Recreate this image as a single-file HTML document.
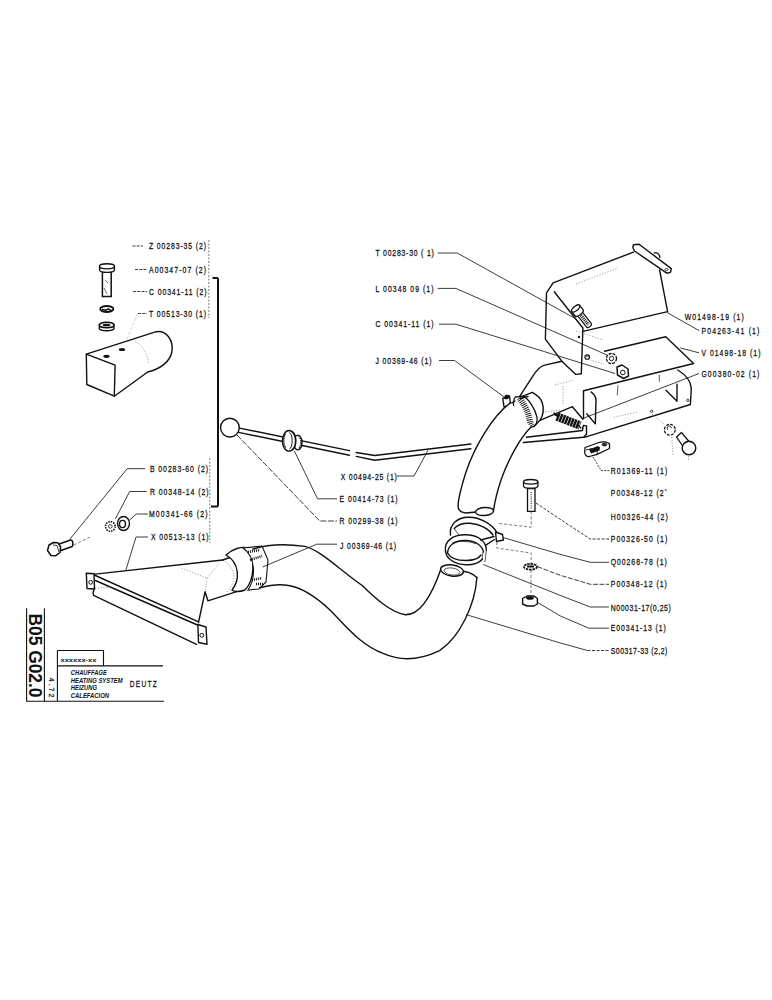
<!DOCTYPE html>
<html><head><meta charset="utf-8">
<style>
html,body{margin:0;padding:0;background:#fff;width:772px;height:1000px;overflow:hidden}
svg{position:absolute;left:0;top:0;display:block}
text{font-family:"Liberation Sans",sans-serif;font-size:8.6px;font-weight:normal;fill:#111;stroke:#111;stroke-width:0.25;dominant-baseline:central}
.ln{fill:none;stroke:#111;stroke-width:1.4;stroke-linejoin:round;stroke-linecap:round}
.th{fill:none;stroke:#111;stroke-width:0.7}
.ld{fill:none;stroke:#1a1a1a;stroke-width:0.85}
.dt{fill:none;stroke:#777;stroke-width:0.7;stroke-dasharray:1.2 1.6}
.ds{fill:none;stroke:#444;stroke-width:0.7;stroke-dasharray:3 2}
.wf{fill:#fff;stroke:#111;stroke-width:1.4;stroke-linejoin:round}
</style></head>
<body>
<svg width="772" height="1000" viewBox="0 0 772 1000">

<!-- ===== LEFT COLUMN LABELS ===== -->
<g id="leftlabels">
<text transform="translate(149 246.4) scale(0.8 1)" textLength="71.2" lengthAdjust="spacing">Z 00283-35 (2)</text>
<text transform="translate(149 269.9) scale(0.8 1)" textLength="71.2" lengthAdjust="spacing">A00347-07 (2)</text>
<text transform="translate(149 291.9) scale(0.8 1)" textLength="71.9" lengthAdjust="spacing">C 00341-11 (2)</text>
<text transform="translate(149 313.9) scale(0.8 1)" textLength="71.2" lengthAdjust="spacing">T 00513-30 (1)</text>
<text transform="translate(150 469.1) scale(0.8 1)" textLength="72.5" lengthAdjust="spacing">B 00283-60 (2)</text>
<text transform="translate(150 491.9) scale(0.8 1)" textLength="73.1" lengthAdjust="spacing">R 00348-14 (2)</text>
<text transform="translate(149 514.4) scale(0.8 1)" textLength="73.1" lengthAdjust="spacing">M00341-66 (2)</text>
<text transform="translate(151 537.4) scale(0.8 1)" textLength="71.9" lengthAdjust="spacing">X 00513-13 (1)</text>
<path class="ld" d="M132.5,246H143 M135,269.5H147 M133,291.5H147 M138,313.5H147" stroke-dasharray="3 1.2"/>
<path d="M208.8,240V318 M209.8,458V543" fill="none" stroke="#555" stroke-width="0.8" stroke-dasharray="2 1.5"/>
<path d="M218,278V506.5 M212.5,278H218 M211,506.5H218" fill="none" stroke="#111" stroke-width="2"/>
</g>

<!-- ===== LEFT TOP PART (body + bolt/washer/nut) ===== -->
<g id="body">
<!-- bolt -->
<path d="M102.4,271V296.5H111.2V271Z" fill="#fff" stroke="#111" stroke-width="1.5"/>
<path d="M104,288L107,294 M105,280L108,283" stroke="#333" stroke-width="0.7"/>
<path d="M99.6,266.5V270A7.4,2.4 0 0 0 114.4,270V266.5Z" fill="#fff" stroke="#111" stroke-width="1.4"/>
<ellipse cx="107" cy="266.3" rx="7.4" ry="2.6" fill="#fff" stroke="#111" stroke-width="1.4"/>
<!-- lock washer -->
<ellipse cx="106.8" cy="309" rx="6.6" ry="3" fill="none" stroke="#111" stroke-width="1.8"/>
<path d="M102,309.5L106,310.3L108,308.8L112,311" stroke="#111" stroke-width="1.5" fill="none"/>
<!-- nut -->
<path d="M99.3,325V328.5A7.4,2.6 0 0 0 114,328.5V325Z" fill="#fff" stroke="#111" stroke-width="1.4"/>
<ellipse cx="106.7" cy="325" rx="7.4" ry="2.8" fill="#fff" stroke="#111" stroke-width="1.4"/>
<ellipse cx="106.5" cy="325" rx="3.8" ry="1.3" fill="#111"/>
<!-- body -->
<path class="ln" d="M86.3,354.2L156.3,331.7C166,330 174,340 171.8,352C170,362 160,369 147.7,372L114.3,396.2L86.8,384.5Z"/>
<path class="ln" d="M86.3,354.2L115.1,365.1L114.3,396.2"/>
<path class="dt" d="M135.3,341C143,346 148,355 148.5,363.5"/>
<ellipse cx="106.5" cy="356.3" rx="3.2" ry="1.6" fill="#111"/>
<ellipse cx="122" cy="349.5" rx="3.2" ry="1.6" fill="#111"/>
<path d="M137.7,313.4L126,341.4" fill="none" stroke="#aaa" stroke-width="0.6" stroke-dasharray="3 2"/>
</g>

<!-- ===== BALL LEVER + ROD ===== -->
<g id="rod">
<circle class="ln" cx="229.9" cy="427.6" r="9.4"/>
<path class="ln" d="M239.6,428.1L349.4,450.6 M238.6,432.4L349.4,455.3"/>
<path class="ln" d="M356.2,452.5L374.7,455.5L470.9,444 M356.2,456.4L374.7,460.2L470.9,448.8"/>

<!-- grommet -->
<ellipse cx="297.8" cy="442.5" rx="4.2" ry="7.4" fill="#fff" stroke="#111" stroke-width="1.4"/>
<path d="M298.5,436.5A2.2,5.5 0 0 1 298.5,448.5" fill="none" stroke="#111" stroke-width="1.6" stroke-dasharray="1.2 1"/>
<ellipse cx="289" cy="440.8" rx="6.6" ry="10.3" fill="#fff" stroke="#111" stroke-width="1.4"/>
<path d="M292,431.5A4,9.2 0 0 1 292,450 M289.5,432.5A3,8.3 0 0 1 289.5,449 M286,434A2.5,6.8 0 0 0 286,447.5" fill="none" stroke="#111" stroke-width="1"/>
<path class="ld" d="M237,435L319.8,521H337" stroke-dasharray="6 1.5"/>
<path class="ld" d="M294.3,450.8L317.5,498.8H337 M396.8,476H414L428,450.3"/>
<text transform="translate(340.8 477.1) scale(0.8 1)" textLength="70.0" lengthAdjust="spacing">X 00494-25 (1)</text>
<text transform="translate(339.6 499.2) scale(0.8 1)" textLength="72.5" lengthAdjust="spacing">E 00414-73 (1)</text>
<text transform="translate(339.6 521.4) scale(0.8 1)" textLength="72.5" lengthAdjust="spacing">R 00299-38 (1)</text>
</g>

<!-- ===== LOWER LEFT BOLT/WASHER/NUT ===== -->
<g id="llbolt">
<path d="M58.5,544.2L70.5,540C73,539.5 73.5,544 72.2,546.5L61,550.5Z" fill="#fff" stroke="#111" stroke-width="1.5" stroke-linejoin="round"/>
<path d="M49,545L53.5,542.5L58,542.8L60.6,547L60,552.5L55.5,555.8L51,555.5L47.5,550.5Z" fill="#fff" stroke="#111" stroke-width="1.5" stroke-linejoin="round"/>
<path d="M53,545L57,545.5L59,552" fill="none" stroke="#111" stroke-width="0.8"/>
<circle cx="110.3" cy="526.4" r="4.8" fill="none" stroke="#111" stroke-width="1.6" stroke-dasharray="1.5 1"/>
<circle cx="110.3" cy="526.4" r="1.8" fill="none" stroke="#111" stroke-width="0.8"/>
<ellipse class="wf" cx="123.5" cy="523.5" rx="6" ry="7"/>
<ellipse cx="122.5" cy="524" rx="3" ry="3.6" fill="none" stroke="#111" stroke-width="1.4"/>
<path class="ld" d="M145.3,468.7H127.2L70,539 M146.6,491.5H129.7L115.5,518.7 M147.9,514H136.2L129.7,520 M148,537H136L125.9,570"/>
<path class="ds" d="M74,545L90,537"/>
</g>

<!-- ===== LEFT DUCT X00513-13 ===== -->
<g id="lduct">
<path class="ln" d="M93,574.4L222.7,560"/>
<path class="ln" d="M92,574L198,621.7 M95.4,580.5L197.5,625 M93.6,595.4L196.5,644.3 M94.5,588.5L93,592.5L93.6,595.4"/>
<path class="dt" d="M95,588.2L111,587.2"/>
<path class="wf" d="M86.3,573.3L94,573.8L94.5,589L87,588.5Z"/>
<circle cx="90.7" cy="582.3" r="1.9" fill="none" stroke="#111" stroke-width="1"/>
<path class="wf" d="M197.9,624.5L206,627L207,644.3L198.5,642.5Z"/>
<circle cx="201.8" cy="635.3" r="1.9" fill="none" stroke="#111" stroke-width="1"/>
<path class="ln" d="M198.5,622.5L205.1,591.7L207.9,600.8L239.8,590.6"/>
<path class="dt" d="M181.6,568.2L207,578.1L220,562 M207,578.1L205.5,590 M222.7,560C232,565 236,575 233.4,580.6C232,586 229,590 227,592"/>
<!-- neck + clamp -->
<path class="ln" d="M222.7,560L237,555"/>
<path class="wf" d="M226,555C232,549 242,546 248,548C255,558 255,580 245,590C240,592 234,592 232,590C240,580 240,563 226,555Z"/>
<path d="M243,548L262,546L268,560L266,582L259,589L248,590C256,578 256,557 243,548Z" fill="#fff" stroke="#111" stroke-width="1.1"/>
<path d="M248,552L260,550 M252,580L262,578 M250,560L262,556 M256,584L264,584" stroke="#111" stroke-width="2.5" stroke-dasharray="1 1"/>
<path class="ln" d="M252.7,549.2C265,545 280,543 305,546.4C320,550 340,570 361.9,585.3C375,598 390,612 405.4,614.8C420,615 432,595 441.2,568.2"/>
<path class="ln" d="M259.8,587.7C270,585 280,584 287.3,585.3C300,587 315,596 330,610C345,625 360,645 383.7,653.7C400,661 420,660 439.6,650.6C460,637 475,605 476.9,577.5"/>
<path class="ln" d="M460,571C466,571 472,573 476.9,577.5"/>
<ellipse class="wf" cx="452" cy="570.5" rx="11.5" ry="5.5" transform="rotate(8 452 570.5)"/>
<ellipse cx="452" cy="571.5" rx="8" ry="3.5" fill="none" stroke="#111" stroke-width="0.7" transform="rotate(8 452 571.5)"/>
<path class="ld" d="M262.6,567L316.8,544.2H337"/>
<text transform="translate(340 545.9) scale(0.8 1)" textLength="70.0" lengthAdjust="spacing">J 00369-46 (1)</text>
</g>

<!-- ===== TITLE BLOCK ===== -->
<g id="title">
<path d="M26.6,608.2V701.2H164 M44.4,608.2V701.2 M57.4,650.5V701.2 M57.4,650.5H103.5V665.9 M57.4,665.9H163" fill="none" stroke="#111" stroke-width="1.1"/>
<text transform="translate(35.2,613.5) rotate(90)" style="font-size:17.6px;font-weight:bold;stroke-width:0;dominant-baseline:central" textLength="84" lengthAdjust="spacingAndGlyphs">B05 G02.0</text>
<text transform="translate(51,677.8) rotate(90)" style="font-size:7px" textLength="19.5" lengthAdjust="spacing">4.72</text>
<text x="60.5" y="659.8" style="font-size:6.2px;font-weight:bold;stroke-width:0" textLength="36" lengthAdjust="spacingAndGlyphs">xxxxxx-xx</text>
<text x="70.8" y="672.5" style="font-size:6.4px;font-style:italic;font-weight:bold;stroke-width:0" textLength="36" lengthAdjust="spacingAndGlyphs">CHAUFFAGE</text>
<text x="70.8" y="680" style="font-size:6.4px;font-style:italic;font-weight:bold;stroke-width:0" textLength="51.8" lengthAdjust="spacingAndGlyphs">HEATING SYSTEM</text>
<text x="70.8" y="687.6" style="font-size:6.4px;font-style:italic;font-weight:bold;stroke-width:0" textLength="26.3" lengthAdjust="spacingAndGlyphs">HEIZUNG</text>
<text x="70.8" y="695.3" style="font-size:6.4px;font-style:italic;font-weight:bold;stroke-width:0" textLength="38.3" lengthAdjust="spacingAndGlyphs">CALEFACION</text>
<text transform="translate(129.8 684.3) scale(0.78 1)" style="font-size:8.4px" textLength="34.6" lengthAdjust="spacing">DEUTZ</text>
</g>

<!-- ===== UPPER LABELS ===== -->
<g id="uplabels">
<text transform="translate(375.5 253.4) scale(0.8 1)" textLength="72.9" lengthAdjust="spacing">T 00283-30 ( 1)</text>
<text transform="translate(375.5 288.8) scale(0.8 1)" textLength="72.5" lengthAdjust="spacing">L 00348 09 (1)</text>
<text transform="translate(375.5 324.6) scale(0.8 1)" textLength="72.5" lengthAdjust="spacing">C 00341-11 (1)</text>
<text transform="translate(375.5 360.9) scale(0.8 1)" textLength="70.0" lengthAdjust="spacing">J 00369-46 (1)</text>
<path class="ld" d="M437.7,253H457.2L575,318.4 M437.7,288.4H455.9L607,355 M439,324.2H455.9L615,373.5 M439,360.5H454.6L504,397"/>
<text transform="translate(684.7 317.1) scale(0.8 1)" textLength="73.8" lengthAdjust="spacing">W01498-19 (1)</text>
<text transform="translate(701.4 331.1) scale(0.8 1)" textLength="72.5" lengthAdjust="spacing">P04263-41 (1)</text>
<text transform="translate(701.4 353.2) scale(0.8 1)" textLength="73.8" lengthAdjust="spacing">V 01498-18 (1)</text>
<text transform="translate(701.4 373.9) scale(0.8 1)" textLength="72.5" lengthAdjust="spacing">G00380-02 (1)</text>
<path class="ld" d="M699.2,330.7L666.8,312.3 M699,352.8L680.2,347.9 M699,373.5L584,418"/>
</g>

<!-- ===== PANEL ASSEMBLY ===== -->
<g id="panels">
<!-- W panel -->
<path class="ln" d="M553.1,282.9L633.5,252.1 M553.1,282.9L546.5,292.9L545.4,339.1L561.8,361.2 M659.6,270L667.6,311.6L582.9,331.4 M554.2,291.8L582.9,328L581.3,373.7L575.8,374.4L561.8,361.2"/>
<path d="M654,253.5C656,251.5 660,254 660,258" fill="#fff" stroke="#111" stroke-width="1.2"/>
<path class="wf" d="M633.5,244.8L639,244.2L671.3,268.6L670.6,272.2L666.8,273.2L634.5,251L632.8,247.5Z"/>
<ellipse cx="666.5" cy="269.5" rx="1.6" ry="1" fill="none" stroke="#111" stroke-width="0.8"/>
<path class="dt" d="M576,284L618,268"/>
<!-- T bolt -->
<g transform="translate(578.5 312) rotate(-38)">
<path d="M-3,0H3V17A3,1.5 0 0 1 -3,17Z" fill="#fff" stroke="#111" stroke-width="1.2"/>
<path d="M0,4V16" stroke="#111" stroke-width="3.2" stroke-dasharray="1 0.9"/>
<path d="M-5,-4.5H5V1A5,2.2 0 0 1 -5,1Z" fill="#fff" stroke="#111" stroke-width="1.3"/>
<ellipse cx="0" cy="-4.5" rx="5" ry="2.2" fill="#fff" stroke="#111" stroke-width="1.3"/>
</g>
<circle cx="579" cy="337" r="1.2" fill="#111"/>
<!-- washers -->
<circle cx="611.5" cy="358.5" r="5" fill="#fff" stroke="#111" stroke-width="1.3" stroke-dasharray="3 1"/>
<circle cx="611.5" cy="358.5" r="2.2" fill="none" stroke="#111" stroke-width="0.9"/>
<path d="M617,367L622,365L628,369L628.5,376L623.5,378.5L617.5,375Z" fill="#fff" stroke="#111" stroke-width="1.5" stroke-linejoin="round"/>
<circle cx="622.8" cy="372.5" r="2.3" fill="none" stroke="#111" stroke-width="1"/>
<circle cx="587.2" cy="357" r="2.3" fill="none" stroke="#111" stroke-width="1.1"/>
<path d="M586,356H590" stroke="#111" stroke-width="1"/>
<path class="dt" d="M576,331L603,340 M590,360L604,364"/>
<!-- V plate -->
<path class="ln" d="M604.5,351.2L665.7,336.8L693.6,363.5L583.6,390.8"/>
<!-- G channel -->
<path class="ln" d="M583.5,391V418.8 M584.3,437.4L690.4,404.5 M677.8,370C686,375 691,382 691.3,388.5L690.4,404 M666,390.2L677,401.2V384.3"/>
<path class="ln" d="M591,391.9C594,394 596,397 596,400.3L595.3,423.9L586.8,413.8"/>
<path class="th" d="M618,385.2L617.2,395.3 M659.3,375V381.8" stroke-width="1.1"/>
<path class="dt" d="M613.8,417.2L637.4,412.1"/>
<circle cx="651.7" cy="411.3" r="1.2" fill="none" stroke="#111" stroke-width="0.8"/>
<circle cx="687.9" cy="400.3" r="1.2" fill="none" stroke="#111" stroke-width="0.8"/>
<!-- duct -->
<path class="ln" d="M519.9,396.2L532.3,376.8C536,371 540,366 544.7,365.1L561.8,361.2"/>
<path class="ln" d="M540,420.3L572.4,406.7L582.7,419"/>
<path class="dt" d="M555,385L574,380 M563,386V405 M545,412L560,410"/>
<!-- flange -->
<path class="ln" d="M526.4,437.3L582.4,430.5L583.4,425.4L586.5,425.9L586.5,434.2L583.4,437.3L523.3,442.5"/>
<!-- clamp J upper -->
<path d="M515.2,397C512,402 513,414 519.9,420.3C523,424 527,427 530.8,427.3L533.9,426.5C536,425 537.5,422 537,417.2C535,409 529,399 523,396.2Z" fill="#fff" stroke="#111" stroke-width="1.3"/>
<path d="M519,398C523,402 528,411 529.5,419C530,423 531,425 532,426.5" fill="none" stroke="#111" stroke-width="6" stroke-dasharray="0.9 1.1"/>
<path class="ln" d="M523,396.2L532.3,392.3C537,395 541,399 542,402C544,408 544,414 540,420.3L533.9,426.5"/>
<path class="wf" d="M502.8,398.5L509.5,396L510.5,404.5L504,407Z"/>
<path d="M504.5,396A3,2 0 0 1 509,395L509,398A3,2 0 0 1 504.5,399Z" fill="#111"/>
<path class="ln" d="M510,404L515,401"/>
<!-- spring -->
<path d="M557,416.5L580,425.5" stroke="#111" stroke-width="8.5" stroke-dasharray="2.4 0.6" fill="none"/><path d="M554.5,414L558,416" stroke="#111" stroke-width="2.5"/>
<path class="ln" d="M554,413L557,415 M578,425L581,428"/>
<!-- clip R01369-11 -->
<path d="M585,447.5L597.5,443C602,441.3 608,441.5 609.5,443.8L609.5,448.5L597,454.3L589.5,456.5C586.5,456.8 584.7,455 584.7,452Z" fill="#fff" stroke="#111" stroke-width="1.3" stroke-linejoin="round"/>
<path d="M589,449.5L598,446L600,447.5L599.5,450.5L591,453.5Z" fill="#111"/>
<path d="M586,450L592,448.5 M597,454.3L597.5,449" stroke="#111" stroke-width="0.9" fill="none"/>
<ellipse cx="604.5" cy="444.5" rx="2.4" ry="1.5" fill="#333" stroke="#111" stroke-width="0.8"/>
<path class="ld" d="M609.4,470.6H601.2L593,457" stroke-dasharray="2 1.2"/>
<!-- lower right bolt -->
<path d="M676.5,437L681.5,432.5L689,441.5L683,446.5Z" fill="#fff" stroke="#111" stroke-width="1.3" stroke-linejoin="round"/>
<circle cx="689" cy="448" r="6.8" fill="#fff" stroke="#111" stroke-width="1.4"/>
<path d="M684.5,444A5.5,5.5 0 0 1 693,443" fill="none" stroke="#111" stroke-width="0.7"/>
<circle cx="669.8" cy="429.7" r="5.4" fill="none" stroke="#111" stroke-width="1.2" stroke-dasharray="3 1.2"/>
<path d="M668,430A2.2,2.2 0 1 1 671.5,428" fill="none" stroke="#111" stroke-width="0.9"/>
<path class="dt" d="M652,414L664,424 M671.7,437L673.3,456.5 M688.5,456V460"/>
</g>

<!-- ===== UPPER HOSE ===== -->
<g id="uhose">
<path d="M510.7,402.6C492,416 474,448 466,472C461,488 458,500 458.1,506C458,510 461,512.5 466,513L476,512L493.4,511.5C494.5,503 497,492 501,480C508,460 520,438 530.8,427.3Z" fill="#fff" stroke="none"/>
<path class="ln" d="M510.7,402.6C492,416 474,448 466,472C461,488 458,500 458.1,506C458,510 461,512.5 466,513L476,512"/>
<path class="ln" d="M530.8,427.3C520,438 508,460 501,480C497,492 494.5,503 493.4,511.5"/>
<ellipse class="wf" cx="484.5" cy="511.5" rx="9" ry="4" transform="rotate(-5 484.5 511.5)"/>
<path class="ln" d="M520,398.5L528,396.5"/>
<!-- H bolt -->
<path d="M527.5,488.5V511.3H535V488.5Z" fill="#fff" stroke="#111" stroke-width="1.3"/>
<path d="M531.2,492V509" stroke="#333" stroke-width="1.2" stroke-dasharray="1 1.2"/>
<path d="M523.5,481.8V486A7.2,2.2 0 0 0 537.9,486V481.8Z" fill="#fff" stroke="#111" stroke-width="1.3"/>
<ellipse cx="530.7" cy="481.8" rx="7.2" ry="2.3" fill="#fff" stroke="#111" stroke-width="1.3"/>
</g>

<!-- ===== CLAMPS / WASHER / NUT ===== -->
<g id="clamps">
<path class="ds" d="M499.2,523.5L531.2,527.2V510 M496.8,542V548.1L531.2,553V564 M531,570V596"/>
<!-- clamp Q -->
<path class="ln" d="M450.5,535C449,524 458,517.5 468,517.3C480,517 492,524 497,532.5"/>
<path class="ln" d="M454.2,528.5C458,524.5 464,523 470,523.3C480,524 489,529 493,535"/>
<path class="th" d="M454.5,529L458.8,535"/>
<path class="ln" d="M480.6,540L494,536.5 M485.8,545.2L494.5,539.5"/>
<path class="wf" d="M495.5,532L502.5,534.5L503.4,540L496.5,541.5Z"/>
<!-- clamp N -->
<path class="ln" d="M445.5,551C444,541 453,534.8 465,534.8C478,534.8 486,541 486.3,550"/>
<path class="ln" d="M447.5,553C448,545 456,539.8 466,540.5C475,541 482,545 483.5,552"/>
<path class="ln" d="M445.5,551C446,559 455,564.5 466,564.8C474,565 480,562 482.5,559 M447.5,553C450,558 457,560.5 466,560.5C474,560.5 479,558 481,555"/>
<path class="th" d="M483,552L482,559 M486.3,550L485,562"/>
<path class="th" d="M452,543C458,540.5 470,541 476,544"/>
<!-- washer P -->
<ellipse cx="530.5" cy="566.7" rx="6.6" ry="2.9" fill="#fff" stroke="#111" stroke-width="1.7" stroke-dasharray="2.5 0.8"/>
<path d="M527,566.5H534" stroke="#111" stroke-width="2"/>
<!-- nut E -->
<path class="wf" d="M522.6,598.5L527,596L534,596L537.4,598.5V604L534,606L527,606L522.6,604Z"/>
<ellipse cx="530" cy="598" rx="4" ry="1.8" fill="#111"/>
<path class="ld" d="M503,537.5L560,554.3L590.2,562.3H609 M483.2,564.5L560,595.3L590.2,607H609 M537.4,602.3L560,615.8L588.8,628.2H609 M466,614.6L560,642.9L587.5,650.5"/>
<path class="ld" d="M537.4,566.6L560,575.2L590.2,584.3H609" stroke-dasharray="5 1.5"/>
<path class="ld" d="M587.5,650.5H609" stroke-dasharray="3 1.5"/>
<path class="ld" d="M536,503L570,525.8L590.2,539H609" stroke-dasharray="3 1.5"/>
<text transform="translate(610.8 471.0) scale(0.8 1)" textLength="70.5" lengthAdjust="spacing">R01369-11 (1)</text>
<text transform="translate(610.8 493.0) scale(0.8 1)" textLength="70.0" lengthAdjust="spacing">P00348-12 (2`</text>
<text transform="translate(610.8 516.9) scale(0.8 1)" textLength="71.2" lengthAdjust="spacing">H00326-44 (2)</text>
<text transform="translate(610.8 539.4) scale(0.8 1)" textLength="70.6" lengthAdjust="spacing">P00326-50 (1)</text>
<text transform="translate(610.8 562.7) scale(0.8 1)" textLength="70.0" lengthAdjust="spacing">Q00268-78 (1)</text>
<text transform="translate(610.8 584.7) scale(0.8 1)" textLength="70.0" lengthAdjust="spacing">P00348-12 (1)</text>
<text transform="translate(610.8 608.0) scale(0.8 1)" textLength="75.0" lengthAdjust="spacing">N00031-17(0,25)</text>
<text transform="translate(610.8 628.6) scale(0.8 1)" textLength="68.8" lengthAdjust="spacing">E00341-13 (1)</text>
<text transform="translate(610.8 650.9) scale(0.8 1)" textLength="70.6" lengthAdjust="spacing">S00317-33 (2,2)</text>
</g>

</svg>
</body></html>
